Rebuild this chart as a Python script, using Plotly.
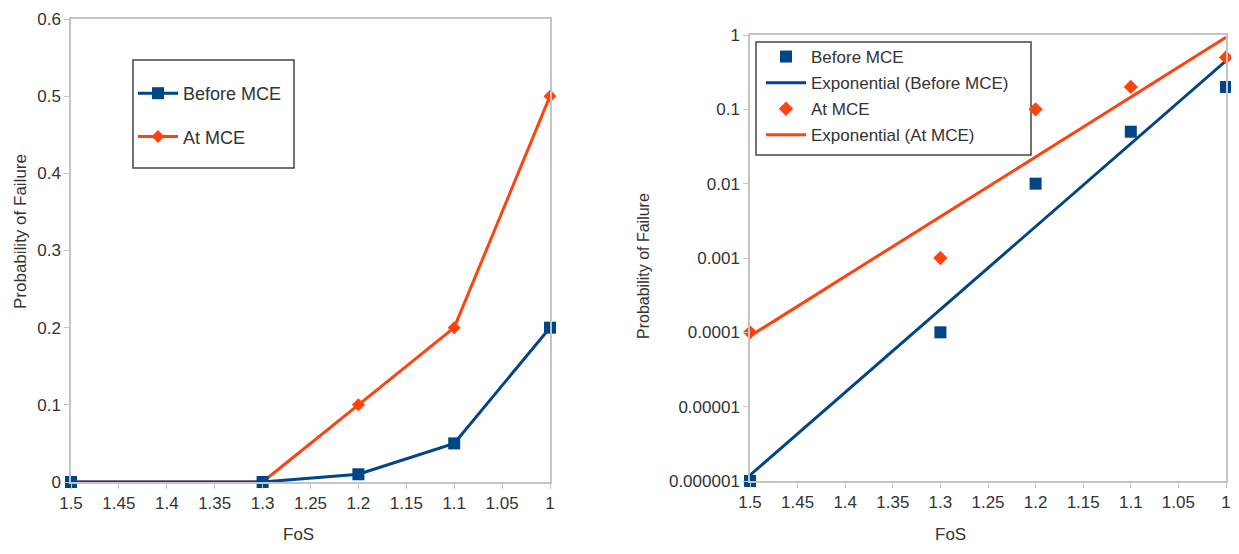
import numpy as np
import plotly.graph_objects as go

fos = [1.5, 1.3, 1.2, 1.1, 1.0]
before_mce = [0.000001, 0.0001, 0.01, 0.05, 0.2]
at_mce = [0.0001, 0.001, 0.1, 0.2, 0.5]
left_before = [0, 0, 0.01, 0.05, 0.2]
left_at = [0, 0, 0.1, 0.2, 0.5]
x_ticks = [1.5, 1.45, 1.4, 1.35, 1.3, 1.25, 1.2, 1.15, 1.1, 1.05, 1.0]
log_tickvals = [0.000001, 0.00001, 0.0001, 0.001, 0.01, 0.1, 1]
log_ticktext = ["0.000001", "0.00001", "0.0001", "0.001", "0.01", "0.1", "1"]

BLUE = "#004586"
ORANGE = "#ff420e"
TXT = "#333333"
FRAME = "#c4c4c4"
FONT = "Liberation Sans, Arial, sans-serif"


def exp_fit(x, y):
    b, a = np.polyfit(np.array(x), np.log(np.array(y)), 1)
    xs = np.array([max(x), min(x)])
    return xs, np.exp(a + b * xs)


fig = go.Figure()

# Left chart
fig.add_trace(go.Scatter(x=fos, y=left_at, mode="lines+markers", name="At MCE",
                         line=dict(color=ORANGE, width=3),
                         marker=dict(symbol="diamond", size=10, color=ORANGE),
                         cliponaxis=False, xaxis="x", yaxis="y",
                         legend="legend", legendrank=2, legendgroup="a"))
fig.add_trace(go.Scatter(x=fos, y=left_before, mode="lines+markers", name="Before MCE",
                         line=dict(color=BLUE, width=3),
                         marker=dict(symbol="square", size=12, color=BLUE),
                         cliponaxis=False, xaxis="x", yaxis="y",
                         legend="legend", legendrank=1, legendgroup="b"))

# Right chart
xb, yb = exp_fit(fos, before_mce)
xa, ya = exp_fit(fos, at_mce)
fig.add_trace(go.Scatter(x=xa, y=ya, mode="lines", name="Exponential (At MCE)",
                         line=dict(color=ORANGE, width=3), cliponaxis=False,
                         xaxis="x2", yaxis="y2", legend="legend2", legendrank=4,
                         legendgroup="r4"))
fig.add_trace(go.Scatter(x=xb, y=yb, mode="lines", name="Exponential (Before MCE)",
                         line=dict(color=BLUE, width=3), cliponaxis=False,
                         xaxis="x2", yaxis="y2", legend="legend2", legendrank=2,
                         legendgroup="r2"))
fig.add_trace(go.Scatter(x=fos, y=before_mce, mode="markers", name="Before MCE",
                         marker=dict(symbol="square", size=12, color=BLUE),
                         cliponaxis=False, xaxis="x2", yaxis="y2", legend="legend2",
                         legendrank=1, legendgroup="r1"))
fig.add_trace(go.Scatter(x=fos, y=at_mce, mode="markers", name="At MCE",
                         marker=dict(symbol="diamond", size=11, color=ORANGE),
                         cliponaxis=False, xaxis="x2", yaxis="y2", legend="legend2",
                         legendrank=3, legendgroup="r3"))

# page body has an 8px margin: figure drawn at offset (8, 8)
OFF = 8
W, H = 1239 - 2 * OFF, 554 - 2 * OFF


def px_x(p):
    return (p - OFF) / W


def px_y(p):
    return (H - (p - OFF)) / H


axis_common = dict(showline=True, mirror=True, linecolor=FRAME, linewidth=1.5,
                   ticks="outside", ticklen=5, tickcolor=FRAME, showgrid=False,
                   zeroline=False, automargin=False, ticklabeloverflow="allow",
                   tickfont=dict(size=17, color=TXT, family=FONT))

fig.update_layout(
    width=W, height=H,
    margin=dict(l=0, r=0, t=0, b=0),
    plot_bgcolor="white", paper_bgcolor="white",
    font=dict(family=FONT, color=TXT, size=17),
    showlegend=True,
    xaxis=dict(domain=[px_x(71), px_x(550)], range=[1.5, 1.0], tickvals=x_ticks,
               anchor="y", **axis_common),
    yaxis=dict(domain=[px_y(482), px_y(19)], range=[0, 0.6], dtick=0.1,
               anchor="x", **axis_common),
    xaxis2=dict(domain=[px_x(750), px_x(1226)], range=[1.5, 1.0], tickvals=x_ticks,
                anchor="y2", **axis_common),
    yaxis2=dict(domain=[px_y(481), px_y(35)], type="log", range=[-6, 0],
                tickvals=log_tickvals, ticktext=log_ticktext, anchor="x2", **axis_common),
    legend=dict(x=px_x(133), y=px_y(75), xanchor="left", yanchor="top",
                borderwidth=0, bgcolor="rgba(0,0,0,0)",
                font=dict(size=18, color=TXT, family=FONT),
                traceorder="grouped", tracegroupgap=17, itemwidth=40),
    legend2=dict(x=px_x(761), y=px_y(39), xanchor="left", yanchor="top",
                 borderwidth=0, bgcolor="rgba(0,0,0,0)",
                 font=dict(size=17, color=TXT, family=FONT),
                 traceorder="grouped", tracegroupgap=1, itemwidth=40),
    shapes=[
        dict(type="rect", xref="paper", yref="paper", x0=px_x(133), x1=px_x(294),
             y0=px_y(168), y1=px_y(60), line=dict(color="#444444", width=1.5),
             fillcolor="white", layer="below"),
        dict(type="rect", xref="paper", yref="paper", x0=px_x(756), x1=px_x(1031),
             y0=px_y(155), y1=px_y(42), line=dict(color="#444444", width=1.5),
             fillcolor="white", layer="below"),
    ],
    annotations=[
        dict(text="FoS", x=px_x(298), y=px_y(534), xref="paper", yref="paper",
             xanchor="center", yanchor="middle",
             showarrow=False, font=dict(size=17, color=TXT)),
        dict(text="FoS", x=px_x(950), y=px_y(534), xref="paper", yref="paper",
             xanchor="center", yanchor="middle",
             showarrow=False, font=dict(size=17, color=TXT)),
        dict(text="Probability of Failure", x=px_x(20), y=px_y(232), xref="paper", yref="paper",
             xanchor="center", yanchor="middle",
             showarrow=False, textangle=-90, font=dict(size=17, color=TXT)),
        dict(text="Probability of Failure", x=px_x(643), y=px_y(266), xref="paper", yref="paper",
             xanchor="center", yanchor="middle",
             showarrow=False, textangle=-90, font=dict(size=16, color=TXT)),
    ],
)

fig.write_html("out.html")
